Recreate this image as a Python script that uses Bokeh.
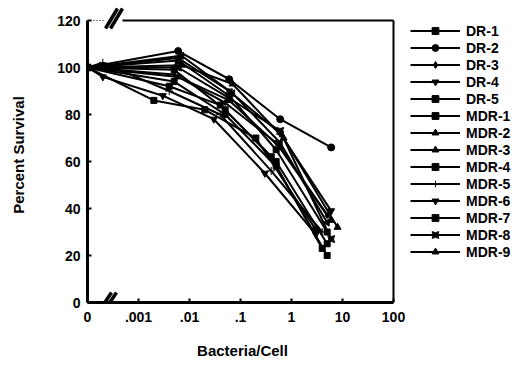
import math
from bokeh.plotting import figure
from bokeh.models import Range1d, FixedTicker, Legend, LegendItem
from bokeh.embed import file_html
from bokeh.resources import INLINE

# ---- data ----
series_names = ["DR-1", "DR-2", "DR-3", "DR-4", "DR-5",
                "MDR-1", "MDR-2", "MDR-3", "MDR-4", "MDR-5",
                "MDR-6", "MDR-7", "MDR-8", "MDR-9"]

DR1_X = [0, 0.006, 0.06, 0.5, 5];   DR1_Y = [100, 103, 88, 65, 30]
DR2_X = [0, 0.006, 0.06, 0.6, 6];   DR2_Y = [100, 107, 95, 78, 66]
DR3_X = [0, 0.005, 0.05, 0.5, 5];   DR3_Y = [100, 97, 85, 68, 37]
DR4_X = [0, 0.006, 0.06, 0.6, 6];   DR4_Y = [100, 104, 90, 72, 39]
DR5_X = [0, 0.004, 0.04, 0.4, 4];   DR5_Y = [100, 92, 84, 62, 23]
MDR1_X = [0, 0.005, 0.05, 0.5, 5];  MDR1_Y = [100, 99, 82, 60, 25]
MDR2_X = [0, 0.007, 0.07, 0.7, 8];  MDR2_Y = [100, 101, 93, 70, 32]
MDR3_X = [0, 0.006, 0.06, 0.6, 6];  MDR3_Y = [100, 96, 86, 66, 35]
MDR4_X = [0, 0.005, 0.05, 0.5, 5];  MDR4_Y = [100, 94, 80, 58, 20]
MDR5_X = [0, 0.0002, 0.004, 0.04, 0.4, 4]; MDR5_Y = [100, 102, 90, 80, 56, 30]
MDR6_X = [0, 0.0002, 0.003, 0.03, 0.3, 3]; MDR6_Y = [100, 96, 88, 78, 55, 29]
MDR7_X = [0, 0.002, 0.02, 0.2, 3];  MDR7_Y = [100, 86, 82, 70, 31]
MDR8_X = [0, 0.006, 0.06, 0.6, 6];  MDR8_Y = [100, 100, 87, 73, 27]
MDR9_X = [0, 0.007, 0.07, 0.6, 5];  MDR9_Y = [100, 105, 89, 68, 34]

series_x = [DR1_X, DR2_X, DR3_X, DR4_X, DR5_X, MDR1_X, MDR2_X, MDR3_X,
            MDR4_X, MDR5_X, MDR6_X, MDR7_X, MDR8_X, MDR9_X]
series_y = [DR1_Y, DR2_Y, DR3_Y, DR4_Y, DR5_Y, MDR1_Y, MDR2_Y, MDR3_Y,
            MDR4_Y, MDR5_Y, MDR6_Y, MDR7_Y, MDR8_Y, MDR9_Y]

x_ticks = [1e-4, 1e-3, 1e-2, 1e-1, 1, 10, 100]
x_tick_labels = ["0", ".001", ".01", ".1", "1", "10", "100"]
y_ticks = [0, 20, 40, 60, 80, 100, 120]

X_MIN, X_MAX = 1e-4, 100   # "0" sits at 1e-4 on the broken log axis
Y_MIN, Y_MAX = 0, 120

# ---- styles / layout ----
markers = ["square", "circle", "diamond", "inverted_triangle", "square",
           "square", "triangle", "triangle", "square", "cross",
           "inverted_triangle", "square", "square_pin", "triangle"]
angles = [0] * 13 + [math.pi / 2]
sizes = [6, 7, 6, 7, 6, 6, 7, 7, 6, 8, 7, 6, 7, 7]

FONT = "Liberation Sans"
INK = "black"

PX_PER_DEC = 51.0
PX_PER_UNIT = 282.0 / 120.0
PAD_R, PAD_T = 4, 13
x_hi = X_MAX * 10 ** (PAD_R / PX_PER_DEC)
y_hi = Y_MAX + PAD_T / PX_PER_UNIT

p = figure(frame_width=306 + PAD_R, frame_height=282 + PAD_T,
           x_axis_type="log",
           x_range=Range1d(X_MIN, x_hi), y_range=Range1d(Y_MIN, y_hi),
           output_backend="svg", toolbar_location=None,
           min_border_left=87, min_border_right=128 - PAD_R,
           min_border_top=20 - PAD_T, min_border_bottom=63,
           background_fill_color="white", border_fill_color="white")

p.xgrid.visible = False
p.ygrid.visible = False
p.outline_line_color = None

for ax in (p.xaxis[0], p.yaxis[0]):
    ax.minor_tick_line_color = None
    ax.major_tick_in = 4
    ax.major_tick_out = 0
    ax.axis_line_width = 3
    ax.axis_line_color = INK
    ax.major_tick_line_width = 2
    ax.major_tick_line_color = INK
    ax.major_label_text_font = FONT
    ax.major_label_text_font_style = "bold"
    ax.major_label_text_font_size = "14px"
    ax.major_label_text_color = INK
    ax.axis_label_text_font = FONT
    ax.axis_label_text_font_style = "bold"
    ax.axis_label_text_font_size = "15px"
    ax.axis_label_text_color = INK

xa = p.xaxis[0]
xa.ticker = FixedTicker(ticks=x_ticks)
xa.major_label_overrides = {t: l for t, l in zip(x_ticks, x_tick_labels)}
xa.major_label_standoff = 9
xa.axis_label = "Bacteria/Cell"
xa.axis_label_standoff = 17
xa.bounds = (X_MIN, X_MAX)

ya = p.yaxis[0]
ya.ticker = FixedTicker(ticks=y_ticks)
ya.major_label_standoff = 7
ya.axis_label = "Percent Survival"
ya.axis_label_standoff = 27
ya.bounds = (Y_MIN, Y_MAX)

# box: top and right borders
top_start = X_MIN * 10 ** (35 / PX_PER_DEC)
p.segment(x0=[top_start], y0=[Y_MAX], x1=[X_MAX], y1=[Y_MAX],
          line_color=INK, line_width=2)
p.segment(x0=[X_MIN], y0=[Y_MAX], x1=[X_MIN * 10 ** (18 / PX_PER_DEC)], y1=[Y_MAX],
          line_color=INK, line_width=1, line_dash="1 2")
p.segment(x0=[X_MAX], y0=[Y_MIN], x1=[X_MAX], y1=[Y_MAX],
          line_color=INK, line_width=2)

# axis-break marks (two slanted strokes at top and bottom)
def brk(px0, py0, px1, py1):
    return (X_MIN * 10 ** (px0 / PX_PER_DEC), Y_MAX - py0 / PX_PER_UNIT,
            X_MIN * 10 ** (px1 / PX_PER_DEC), Y_MAX - py1 / PX_PER_UNIT)

strokes = [brk(18, 8, 30, -12), brk(23, 8, 35, -12),
           brk(12, 290, 24, 272), brk(17, 290, 29, 272)]
p.segment(x0=[s[0] for s in strokes], y0=[s[1] for s in strokes],
          x1=[s[2] for s in strokes], y1=[s[3] for s in strokes],
          line_color=INK, line_width=3.5)

items = []
for name, xs, ys, mk, ang, sz in zip(series_names, series_x, series_y,
                                      markers, angles, sizes):
    px = [X_MIN if v == 0 else v for v in xs]
    r1 = p.line(px, ys, line_color=INK, line_width=2)
    r2 = p.scatter(px, ys, marker=mk, size=sz, angle=ang,
                   fill_color=INK, line_color=INK, line_width=1)
    items.append(LegendItem(label=name, renderers=[r1, r2]))

legend = Legend(items=items, location=(17 - PAD_R, 42),
                glyph_width=50, glyph_height=17, label_height=17,
                spacing=0, padding=2, margin=0, label_standoff=6,
                label_text_font=FONT, label_text_font_style="bold",
                label_text_font_size="14px", label_text_color=INK,
                border_line_color=None, background_fill_alpha=0)
p.add_layout(legend, "right")

open("out.html", "w").write(file_html(p, INLINE))
